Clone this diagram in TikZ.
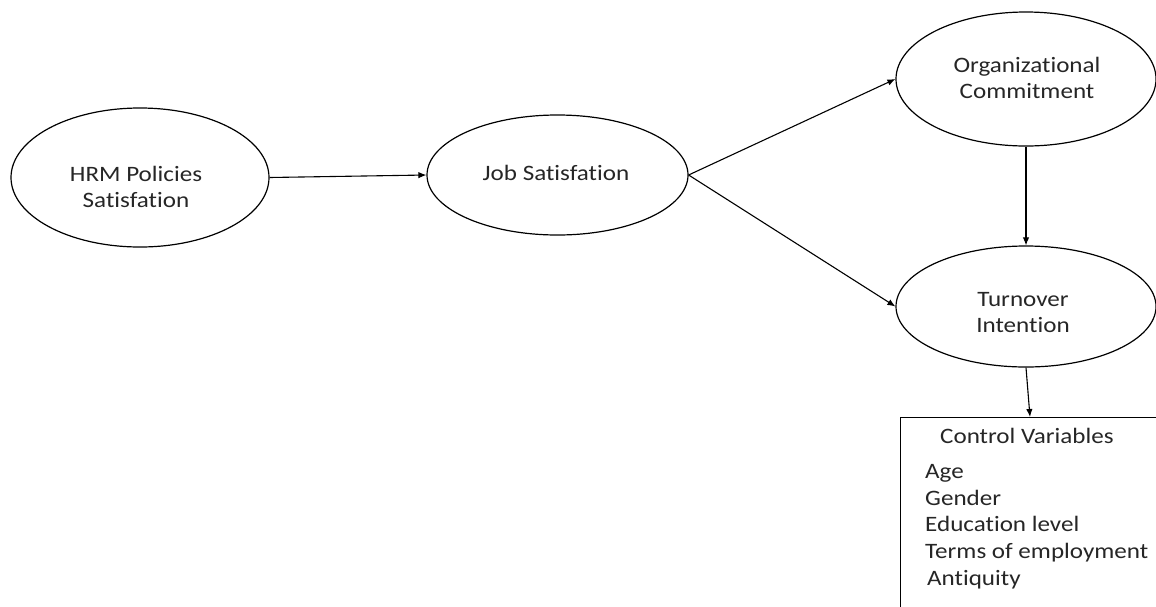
\documentclass[tikz,border=0pt]{standalone}
\usepackage{fontspec}
\setmainfont[FakeStretch=1.14,Ligatures=NoCommon]{Carlito}
\usetikzlibrary{shapes.geometric,arrows.meta}
\begin{document}
\begin{tikzpicture}[x=1pt,y=-1pt,
  every node/.style={font=\fontsize{22}{25.5}\selectfont, text=black!85},
  oval/.style={draw=black, line width=1.2pt, ellipse, inner sep=0pt},
  lbl/.style={align=center, anchor=base, inner sep=0pt},
  item/.style={anchor=base west, inner sep=0pt},
  conn/.style={line width=1.1pt, -{Latex[length=8pt,width=6.5pt]}}]
\useasboundingbox (0,0) rectangle (1156,606);
% ellipses
\node[oval, minimum width=258, minimum height=139] (hrm) at (140,177.5) {};
\node[oval, minimum width=261, minimum height=120] (job) at (557.5,175) {};
\node[oval, minimum width=260, minimum height=134] (org) at (1026,79) {};
\node[oval, minimum width=260, minimum height=121] (tu) at (1026,306.5) {};
% labels (base = baseline of last line)
\node[lbl] (hrmT) at (136,207) {HRM Policies\\Satisfation};
\node[lbl] (jobT) at (556,180) {Job Satisfation};
\node[lbl] (orgT) at (1027,98) {Organizational\\Commitment};
\node[lbl] (tuT) at (1023,332) {Turnover\\Intention};
% control variables box
\node[draw=black, line width=1.2pt, anchor=north west, minimum width=280, minimum height=220, inner sep=0pt] (cv) at (900,417) {};
\coordinate (cvin) at (1030,417);
\node[item] (cvT) at (940,443) {Control Variables};
\node[item] (v1) at (925,478) {Age};
\node[item] (v2) at (925,505) {Gender};
\node[item] (v3) at (925,531.5) {Education level};
\node[item] (v4) at (925,558) {Terms of employment};
\node[item] (v5) at (927,585) {Antiquity};
% connectors
\draw[conn] (hrm.east) -- (job.west);
\draw[conn] (job.east) -- (org.west);
\draw[conn] (job.east) -- (tu.west);
\draw[conn] (org.south) -- (tu.north);
\draw[conn] (tu.south) -- (cvin);
\end{tikzpicture}
\end{document}
